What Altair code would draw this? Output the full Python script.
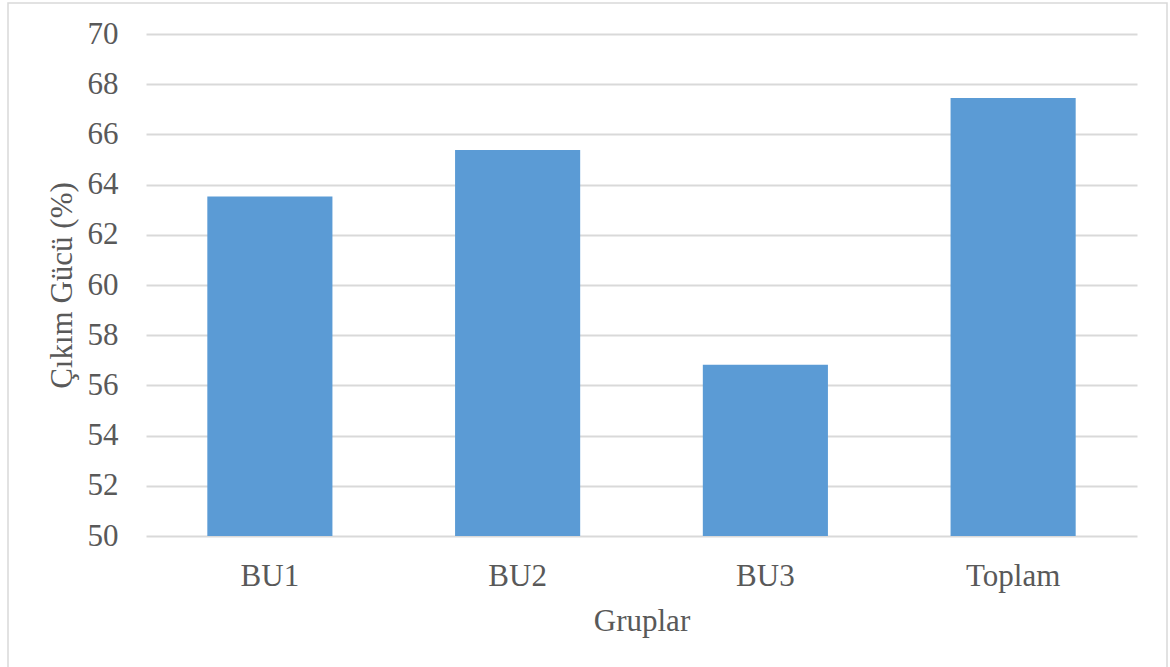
import altair as alt
import pandas as pd

groups = ["BU1", "BU2", "BU3", "Toplam"]
values = [63.53, 65.38, 56.82, 67.45]
y_ticks = [50, 52, 54, 56, 58, 60, 62, 64, 66, 68, 70]

df = pd.DataFrame({"Grup": groups, "Deger": values})

FONT = "Liberation Serif"
TXT = "#595959"

bars = alt.Chart(df).mark_bar(color="#5b9bd5").encode(
    x=alt.X(
        "Grup:N",
        sort=groups,
        scale=alt.Scale(paddingInner=0.495, paddingOuter=0.2475),
        axis=alt.Axis(
            title="Gruplar",
            labelAngle=0,
            ticks=False,
            tickSize=0,
            domain=False,
            grid=False,
            labelFont=FONT,
            labelFontSize=31,
            labelColor=TXT,
            labelBaseline="alphabetic",
            labelPadding=49,
            titleFont=FONT,
            titleFontSize=31,
            titleFontWeight="normal",
            titleColor=TXT,
            titleBaseline="alphabetic",
            titleY=94,
        ),
    ),
    y=alt.Y(
        "Deger:Q",
        scale=alt.Scale(domain=[50, 70], zero=False, nice=False),
        axis=alt.Axis(
            title="Çıkım Gücü (%)",
            values=y_ticks,
            ticks=False,
            tickSize=0,
            domain=False,
            grid=True,
            gridColor="#d9d9d9",
            gridWidth=2,
            labelFont=FONT,
            labelFontSize=31,
            labelColor=TXT,
            labelPadding=28,
            labelBaseline="middle",
            titleFont=FONT,
            titleFontSize=31,
            titleFontWeight="normal",
            titleColor=TXT,
            titleAngle=270,
            titleBaseline="alphabetic",
            titleX=-75,
            titleY=251,
        ),
    ),
    y2=alt.datum(50),
)

frame = alt.Chart(alt.Data(values=[{}])).mark_rect(
    filled=False, stroke="#d9d9d9", strokeWidth=1.5
).encode(
    x=alt.value(-138), x2=alt.value(1021), y=alt.value(-31), y2=alt.value(645)
)

chart = alt.layer(frame, bars).properties(
    width=991,
    height=502,
    autosize=alt.AutoSizeParams(type="none"),
    padding={"left": 146, "top": 34, "right": 33, "bottom": 131},
    background="white",
).configure_view(stroke=None)

chart.save("out.html", embed_options={"renderer": "svg", "actions": False})
